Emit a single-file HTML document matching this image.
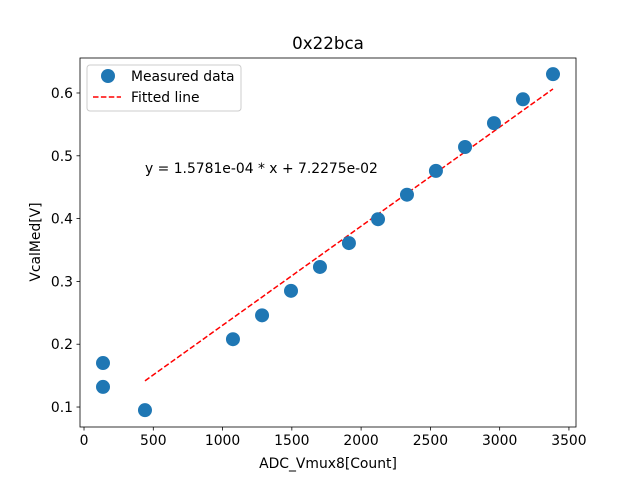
<!DOCTYPE html>
<html><head><meta charset="utf-8"><style>
body{margin:0;background:#fff;}
svg{font-family:"DejaVu Sans","Liberation Sans",sans-serif;}
</style></head><body>
<svg id="chart" width="640" height="480" viewBox="0 0 640 480">
<rect width="640" height="480" fill="#fff"/>
</svg>
<script>
const xs = [137,137,440,1075,1285,1494,1703,1912,2122,2331,2540,2750,2959,3168,3385];
const ys = [0.170,0.132,0.095,0.208,0.246,0.285,0.323,0.361,0.399,0.438,0.476,0.514,0.552,0.590,0.630];
const slope = 1.5781e-4;
const intercept = 7.2275e-2;
const xTicks = [0,500,1000,1500,2000,2500,3000,3500];
const yTicks = [0.1,0.2,0.3,0.4,0.5,0.6];

const L=80,R=576,T=58,B=427;
const xMin=-29,xMax=3551,yMin=0.0682,yMax=0.6557;
const X=v=>L+(v-xMin)/(xMax-xMin)*(R-L);
const Y=v=>B-(v-yMin)/(yMax-yMin)*(B-T);
const svg=document.getElementById('chart');
const NS='http://www.w3.org/2000/svg';
function mk(tag,attrs,txt){const e=document.createElementNS(NS,tag);for(const k in attrs)e.setAttribute(k,attrs[k]);if(txt!==undefined)e.textContent=txt;svg.appendChild(e);return e;}

const x0=Math.min(...xs.slice(2)), x1=Math.max(...xs);
const fl=mk('line',{x1:X(x0),y1:Y(slope*x0+intercept),x2:X(x1),y2:Y(slope*x1+intercept),stroke:'#ff0000','stroke-width':1.5,'stroke-dasharray':'5.5,2.4'});


xs.forEach((x,i)=>{
  const c=mk('circle',{cx:X(x),cy:Y(ys[i]),r:7,fill:'#1f77b4'});
  
  
});
const fr=mk('rect',{x:L,y:T,width:R-L,height:B-T,fill:'none',stroke:'#000','stroke-width':0.8});


xTicks.forEach(t=>{
  mk('line',{x1:X(t),y1:B,x2:X(t),y2:B+3.5,stroke:'#000','stroke-width':0.8});
  const tx=mk('text',{x:X(t),y:B+18,'font-size':13.9,'text-anchor':'middle'},t);
  
  
});
yTicks.forEach(t=>{
  mk('line',{x1:L,y1:Y(t),x2:L-3.5,y2:Y(t),stroke:'#000','stroke-width':0.8});
  const tx=mk('text',{x:L-7,y:Y(t)+5,'font-size':13.9,'text-anchor':'end'},t.toFixed(1));
  
  
});
</script>
<svg width="640" height="480" style="position:absolute;left:0;top:0" font-family="DejaVu Sans, Liberation Sans, sans-serif">
<text x="328" y="49" font-size="16.7" text-anchor="middle">0x22bca</text>
<text x="328" y="468" font-size="13.9" text-anchor="middle">ADC_Vmux8[Count]</text>
<text x="0" y="0" font-size="13.9" text-anchor="middle" transform="translate(40,242) rotate(-90)">VcalMed[V]</text>
<text x="145" y="173" font-size="13.9">y = 1.5781e-04 * x + 7.2275e-02</text>
<g>
<rect x="87" y="65" width="154" height="46" rx="3" fill="#fff" fill-opacity="0.8" stroke="#ccc"/>
<circle cx="108" cy="76" r="7" fill="#1f77b4"/>
<text x="131" y="81" font-size="13.9">Measured data</text>
<line x1="93" y1="97" x2="121" y2="97" stroke="#ff0000" stroke-width="1.5" stroke-dasharray="5.5,2.4"/>
<text x="131" y="102" font-size="13.9">Fitted line</text>
</g>
</svg>
</body></html>
